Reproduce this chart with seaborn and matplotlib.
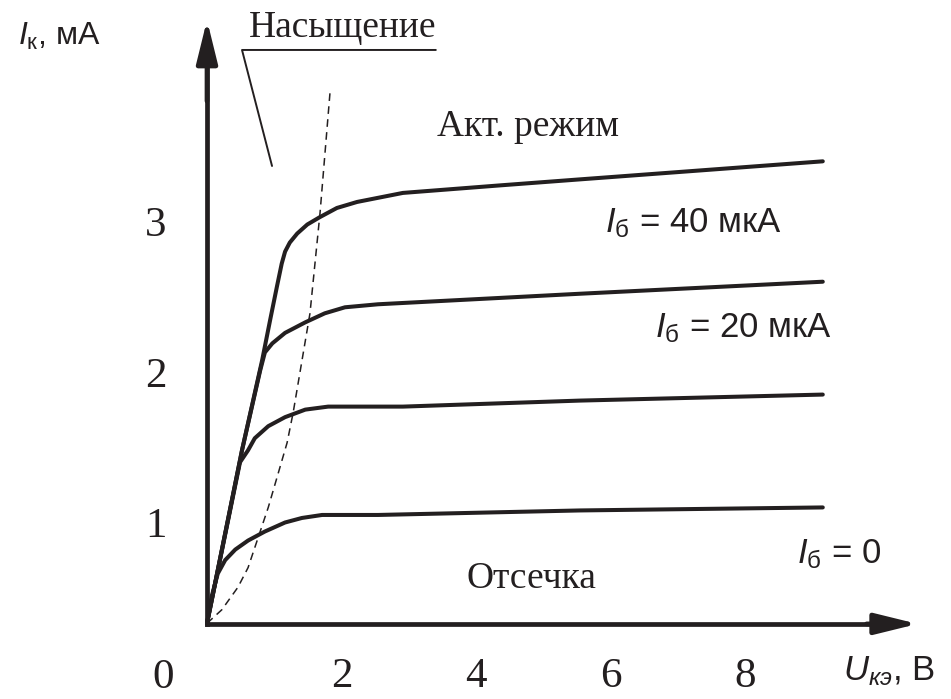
import matplotlib
matplotlib.use("Agg")
import matplotlib.pyplot as plt
import seaborn as sns
import pandas as pd

# --- data (U in V, I in mA) ---
u_40 = [0, 0.52, 0.82, 0.94, 1.04, 1.11, 1.16, 1.23, 1.34, 1.49, 1.68, 1.93, 2.23, 2.57, 2.91, 4.35, 5.54, 9.15]
i_40 = [0.33, 1.48, 2.08, 2.35, 2.57, 2.72, 2.80, 2.86, 2.92, 2.98, 3.03, 3.09, 3.13, 3.16, 3.19, 3.24, 3.28, 3.40]

u_20 = [0, 0.52, 0.79, 0.86, 0.97, 1.16, 1.46, 1.75, 2.05, 2.54, 5.54, 9.15]
i_20 = [0.33, 1.48, 2.01, 2.13, 2.19, 2.26, 2.33, 2.39, 2.43, 2.45, 2.52, 2.60]

u_10 = [0, 0.49, 0.61, 0.71, 0.91, 1.16, 1.46, 1.80, 2.54, 2.91, 5.54, 9.15]
i_10 = [0.33, 1.40, 1.48, 1.56, 1.64, 1.70, 1.75, 1.77, 1.77, 1.77, 1.81, 1.85]

u_0 = [0, 0.07, 0.16, 0.27, 0.42, 0.61, 0.86, 1.16, 1.41, 1.71, 2.54, 5.54, 9.15]
i_0 = [0.33, 0.51, 0.66, 0.75, 0.82, 0.88, 0.94, 1.00, 1.03, 1.05, 1.05, 1.08, 1.10]

u_sat = [0, 0.22, 0.46, 0.61, 0.76, 0.91, 1.06, 1.19, 1.28, 1.53, 1.68, 1.83]
i_sat = [0.33, 0.42, 0.57, 0.70, 0.90, 1.10, 1.33, 1.53, 1.73, 2.39, 3.06, 3.87]

x_ticks = [2, 4, 6, 8]
y_ticks = [1, 2, 3]

INK = "#231f20"
ORIGIN_Y = 0.326

sns.set_theme(style="white")
plt.rcParams["mathtext.fontset"] = "custom"
plt.rcParams["mathtext.rm"] = "Liberation Sans"
plt.rcParams["mathtext.it"] = "Liberation Sans:italic"

fig = plt.figure(figsize=(9.51, 6.99), dpi=100)
ax = fig.add_axes([0, 0, 1, 1])
ax.set_xlim(-3.076, 11.055)
ax.set_ylim(-0.173, 4.472)

curves = [(u_40, i_40), (u_20, i_20), (u_10, i_10), (u_0, i_0)]
for u, i in curves:
    df = pd.DataFrame({"u": u, "i": i})
    sns.lineplot(data=df, x="u", y="i", ax=ax, color=INK, lw=2.9,
                 sort=False, estimator=None)
for ln in ax.lines:
    ln.set_solid_joinstyle("round")

df_sat = pd.DataFrame({"u": u_sat, "i": i_sat})
sns.lineplot(data=df_sat, x="u", y="i", ax=ax, color=INK, lw=1.1,
             sort=False, estimator=None)
ax.lines[-1].set_dashes((5, 3.5))

# axes through the origin
for side in ["top", "right"]:
    ax.spines[side].set_visible(False)
ax.spines["left"].set_position(("data", 0))
ax.spines["bottom"].set_position(("data", ORIGIN_Y))
ax.spines["left"].set_bounds(ORIGIN_Y, 4.1)
ax.spines["bottom"].set_bounds(0, 10.2)
for side in ["left", "bottom"]:
    ax.spines[side].set_linewidth(3.4)
    ax.spines[side].set_color(INK)

arrow = dict(arrowstyle="-|>,head_length=1.3,head_width=0.32", color=INK,
             lw=3.4, mutation_scale=20, shrinkA=0, shrinkB=0)
ax.annotate("", xy=(0, 4.339), xytext=(0, 3.8), arrowprops=arrow)
ax.annotate("", xy=(10.56, ORIGIN_Y), xytext=(9.8, ORIGIN_Y), arrowprops=arrow)

ax.set_xticks(x_ticks)
ax.set_yticks(y_ticks)
ax.set_xticklabels([str(t) for t in x_ticks])
ax.set_yticklabels([str(t) for t in y_ticks])
ax.tick_params(direction="inout", length=18, width=2.9, color=INK,
               labelsize=31, labelcolor=INK)
ax.tick_params(axis="x", pad=15)
ax.tick_params(axis="y", pad=20)
for lab in ax.get_xticklabels() + ax.get_yticklabels():
    lab.set_family("Liberation Serif")
ax.set_xlabel("")
ax.set_ylabel("")

serif = dict(family="Liberation Serif", color=INK)
sans = dict(family="Liberation Sans", color=INK)

ax.text(-0.654, -0.033, "0", ha="center", va="center", fontsize=31, **serif)
ax.text(2.02, 4.226, "Насыщение", ha="center", va="baseline", fontsize=27, **serif)
ax.text(3.42, 3.568, "Акт. режим", ha="left", va="baseline", fontsize=27, **serif)
ax.text(3.86, 0.565, "Отсечка", ha="left", va="baseline", fontsize=27, **serif)

# leader for "Насыщение"
ax.plot([3.40, 0.52, 0.966], [4.14, 4.14, 3.369], color=INK, lw=1.4)

ax.text(5.91, 2.930, r"$I_{\mathrm{б}}$ = 40 мкА", ha="left", va="baseline", fontsize=25, **sans)
ax.text(6.66, 2.233, r"$I_{\mathrm{б}}$ = 20 мкА", ha="left", va="baseline", fontsize=25, **sans)
ax.text(8.77, 0.731, r"$I_{\mathrm{б}}$ = 0", ha="left", va="baseline", fontsize=25, **sans)
ax.text(9.45, -0.047, r"$U_{кэ}$, В", ha="left", va="baseline", fontsize=25, **sans)
ax.text(-2.81, 4.173, r"$I_{\mathrm{к}}$, мА", ha="left", va="baseline", fontsize=23, **sans)

fig.savefig("out.png", dpi=100, facecolor="white")
